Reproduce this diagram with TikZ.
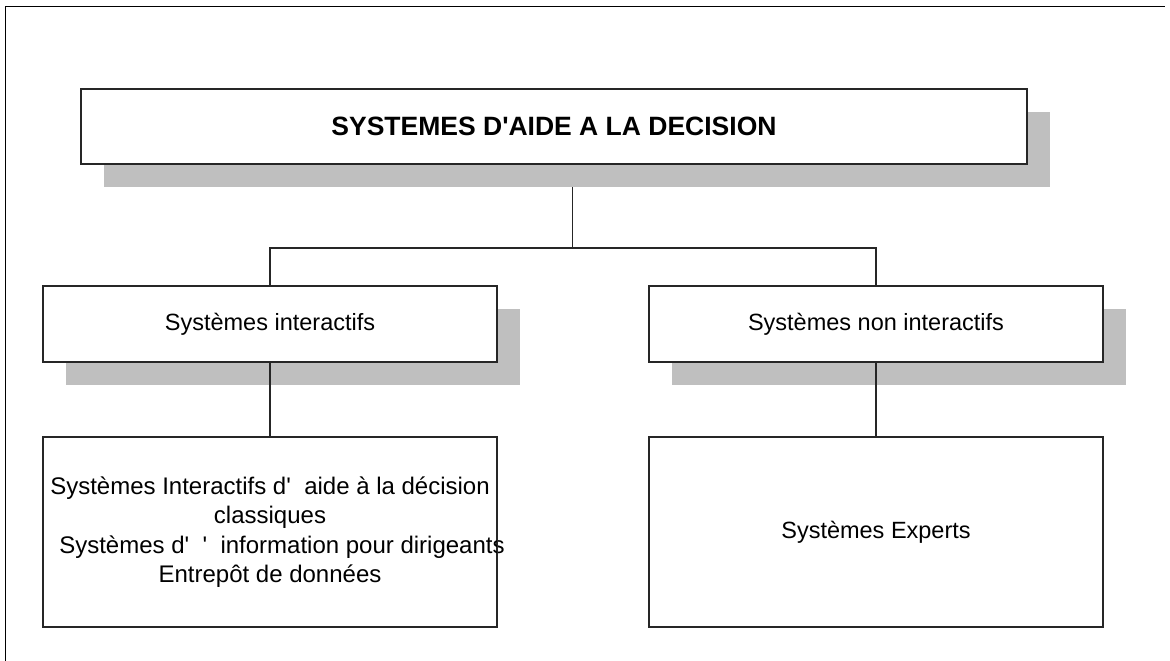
\documentclass[tikz,border=0pt]{standalone}
\usepackage{fontspec}
\setmainfont{Liberation Sans}
\usetikzlibrary{shadows,backgrounds}
\begin{document}
\begin{tikzpicture}[x=1pt,y=-1pt,
  box/.style={draw=black!85, line width=1.3pt, fill=white, rectangle, inner sep=0pt,
    font=\fontsize{23.5}{29}\selectfont, align=center},
  shbox/.style={box, drop shadow={shadow xshift=23pt, shadow yshift=-23pt, fill=black!25, opacity=1}},
  link/.style={draw=black!85, line width=1.3pt}]
\useasboundingbox (0,0) rectangle (1170,661);
\draw[line width=1.5pt] (5.5,661) -- (5.5,6.5) -- (1165,6.5);
% nodes
\node[shbox, minimum width=946pt, minimum height=75pt, font=\fontsize{26.5}{30}\selectfont\bfseries] (top) at (554,126.5) {SYSTEMES D\textquotesingle AIDE A LA DECISION};
\node[shbox, minimum width=454pt, minimum height=76pt] (ml) at (270,324) {Systèmes interactifs};
\node[shbox, minimum width=454pt, minimum height=76pt] (mr) at (876,324) {Systèmes non interactifs};
\node[box, minimum width=454pt, minimum height=190pt, inner xsep=-15pt, font=\fontsize{24}{29.5}\selectfont] (bl) at (270,532) {Systèmes Interactifs d\textquotesingle\ \ aide à la décision\\classiques\\\hspace*{24pt}Systèmes d\textquotesingle\ \ \textquotesingle\ \ information pour dirigeants\\Entrepôt de données};
\node[box, minimum width=454pt, minimum height=190pt, fill=none] (br) at (876,532) {Systèmes Experts};
\coordinate (hb) at (572.5,248);
% connectors
\begin{pgfonlayer}{background}
\draw[link] (top.south -| hb) -- (hb);
\end{pgfonlayer}
\draw[link] (ml.north) -- (ml.north |- hb) -- (mr.north |- hb) -- (mr.north);
\draw[link] (ml.south) -- (bl.north);
\draw[link] (mr.south) -- (br.north);
% redraw bottom-left border over text overflow
\draw[draw=black!85, line width=1.3pt] (bl.north east) -- (bl.south east);
\end{tikzpicture}
\end{document}
